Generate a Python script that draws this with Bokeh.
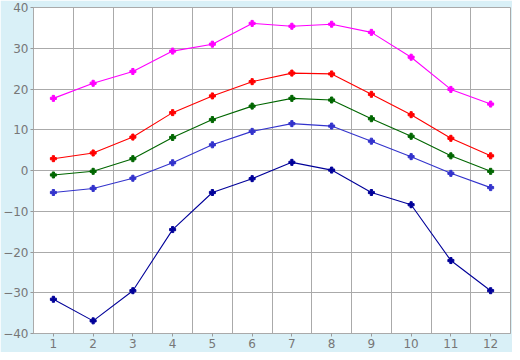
from bokeh.plotting import figure
from bokeh.models import FixedTicker, Range1d
from bokeh.embed import file_html
from bokeh.resources import INLINE

months = [1, 2, 3, 4, 5, 6, 7, 8, 9, 10, 11, 12]
record_high = [17.7, 21.4, 24.3, 29.3, 31.0, 36.1, 35.4, 35.9, 33.9, 27.8, 19.9, 16.3]
mean_high = [2.9, 4.3, 8.2, 14.2, 18.3, 21.8, 23.9, 23.7, 18.7, 13.7, 7.9, 3.6]
mean_daily = [-1.1, -0.2, 2.9, 8.1, 12.5, 15.8, 17.7, 17.3, 12.7, 8.4, 3.6, -0.2]
mean_low = [-5.4, -4.4, -1.9, 1.9, 6.3, 9.6, 11.5, 10.9, 7.2, 3.4, -0.7, -4.2]
record_low = [-31.6, -36.9, -29.5, -14.5, -5.4, -2.0, 2.0, 0.1, -5.4, -8.4, -22.1, -29.5]

series = [
    (record_high, "#FF00FF"),
    (mean_high, "#FF0000"),
    (mean_daily, "#006600"),
    (mean_low, "#3333CC"),
    (record_low, "#000099"),
]

p = figure(width=512, height=352, output_backend="svg", toolbar_location=None,
           x_range=Range1d(0.5, 12.5), y_range=Range1d(-40, 40),
           min_border_left=26, min_border_right=2, min_border_top=7, min_border_bottom=19)

p.background_fill_color = "white"
p.border_fill_color = "#D9F0F7"
p.outline_line_color = "#AAAAAA"
p.outline_line_width = 1

for vals, col in series:
    p.line(months, vals, line_color=col, line_width=1.1)
    p.scatter(months, vals, marker="plus", size=6, fill_color=col, line_color=col)

p.xaxis.ticker = FixedTicker(ticks=months)
p.yaxis.ticker = FixedTicker(ticks=[-40, -30, -20, -10, 0, 10, 20, 30, 40])
p.xgrid.ticker = FixedTicker(ticks=[1.5, 2.5, 3.5, 4.5, 5.5, 6.5, 7.5, 8.5, 9.5, 10.5, 11.5])
p.xgrid.grid_line_color = "#AAAAAA"
p.ygrid.grid_line_color = "#AAAAAA"
p.xgrid.grid_line_width = 1
p.ygrid.grid_line_width = 1

for ax in (p.xaxis, p.yaxis):
    ax.axis_line_color = "#AAAAAA"
    ax.major_tick_line_color = "#999999"
    ax.major_tick_in = 0
    ax.major_tick_out = 3
    ax.minor_tick_line_color = None
    ax.major_label_text_color = "#777777"
    ax.major_label_text_font = "DejaVu Sans"
    ax.major_label_text_font_size = "12px"
    ax.major_label_standoff = 2

open("out.html", "w").write(file_html(p, INLINE))
